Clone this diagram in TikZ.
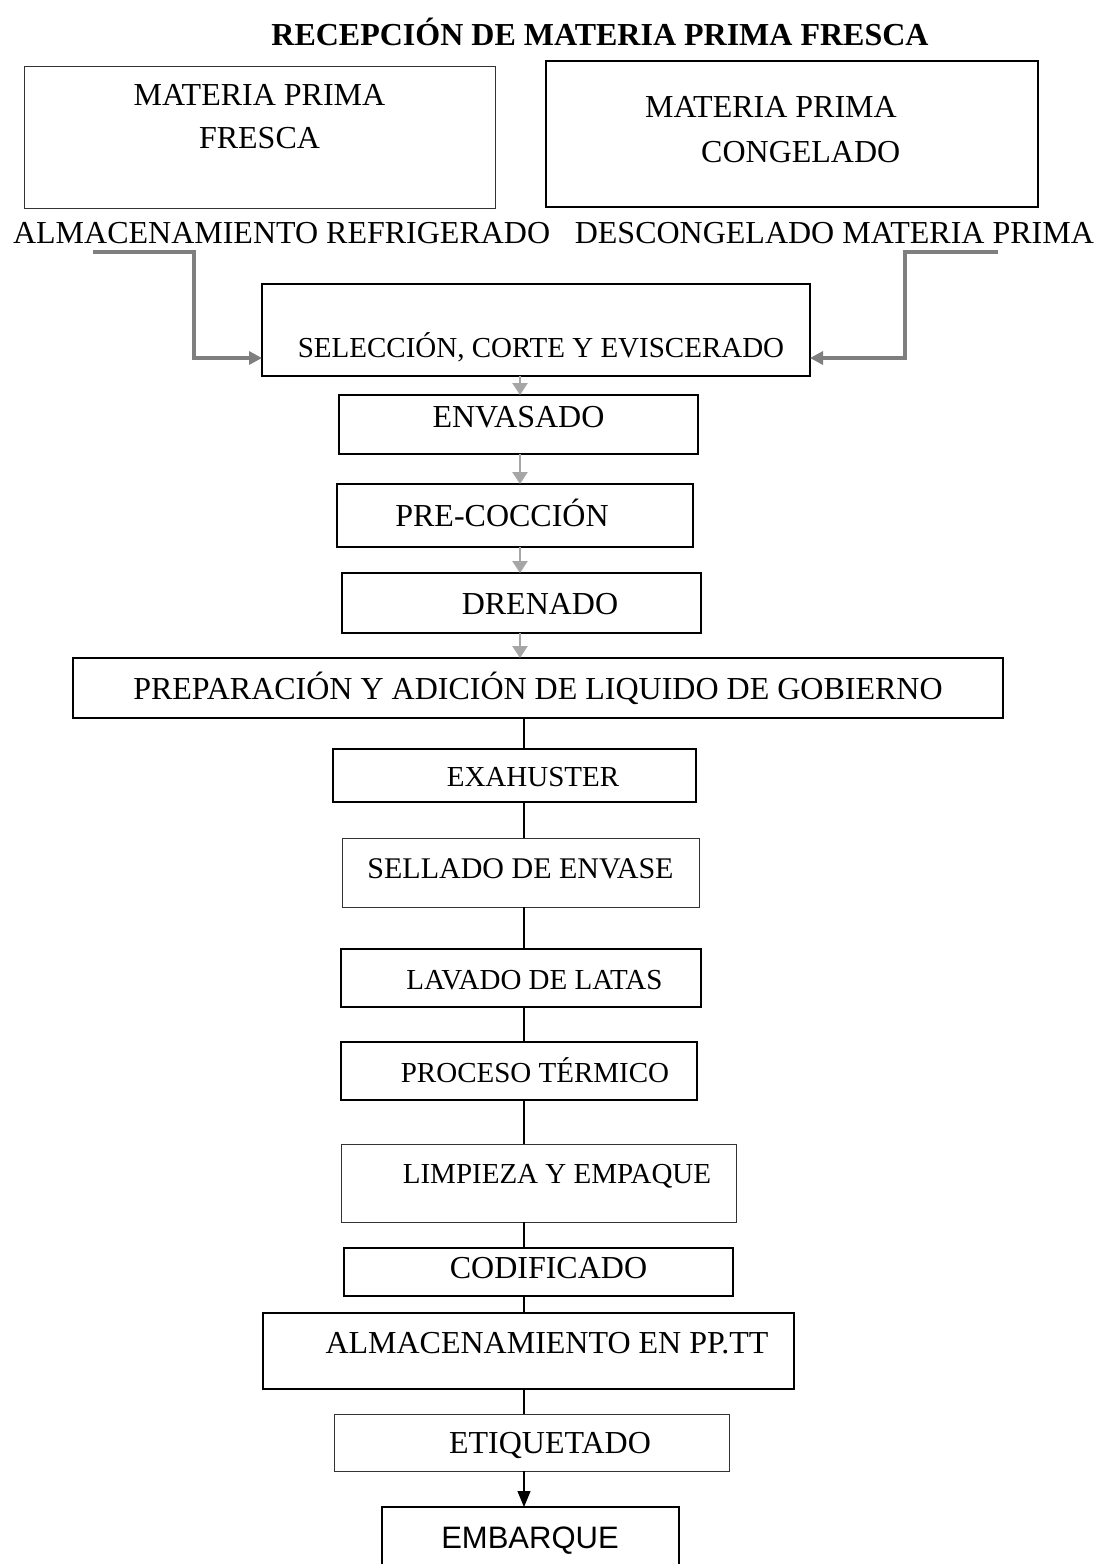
\documentclass[tikz,border=0pt]{standalone}
\usepackage{fontspec}
\setmainfont{Liberation Serif}
\setsansfont{Liberation Sans}
\usepackage{xcolor}
\definecolor{flujo}{HTML}{7F7F7F}
\definecolor{pasogris}{HTML}{A6A6A6}
\usetikzlibrary{arrows.meta, positioning}

\begin{document}
\begin{tikzpicture}[x=0.5pt, y=-0.5pt,
    marco/.style={draw, line width=1pt, outer sep=0pt, inner sep=2pt,
                  font=\fontsize{16}{23}\selectfont},
    caja/.style={marco, text height=11pt, text depth=0pt},
    cajafina/.style={caja, line width=0.5pt, draw=black!80},
    chica/.style={font=\fontsize{14.5}{17}\selectfont},
    etiqueta/.style={font=\fontsize{16}{19}\selectfont, anchor=base},
    entrada/.style={draw=flujo, line width=1.7pt,
                    -{Triangle[length=6.5pt, width=6.5pt]}},
    paso/.style={draw=pasogris, line width=1.3pt,
                 -{Triangle[length=6pt, width=7.5pt]}},
    linea/.style={draw, line width=1pt},
    flecha/.style={draw, line width=0.6pt,
                   -{Triangle[length=8pt, width=6.5pt]}}]

  \path[use as bounding box, clip] (0,0) rectangle (1105,1564);

  % titulo y materia prima
  \node[etiqueta, font=\fontsize{16}{19}\selectfont\bfseries] (titulo)
        at (600,45) {RECEPCIÓN DE MATERIA PRIMA FRESCA};

  \node[marco, line width=0.5pt, draw=black!80,
        font=\fontsize{16}{21.5}\selectfont,
        minimum width=235.5pt, minimum height=71pt,
        align=center, text depth=21pt] (fresca)
        at (259.5,137) {MATERIA PRIMA\\FRESCA};

  \node[marco, line width=1.2pt, font=\fontsize{16}{22.5}\selectfont,
        minimum width=246pt, minimum height=73pt,
        align=left, text depth=5pt,
        right=25.5pt of fresca, yshift=1.5pt] (congelado)
        {MATERIA PRIMA\rule{21pt}{0pt}\\\hspace*{28pt}CONGELADO};

  \node[etiqueta, anchor=base west] (almref) at (6,243)
        {ALMACENAMIENTO REFRIGERADO};
  \node[etiqueta, anchor=base east] (descong) at (1101,243)
        {DESCONGELADO MATERIA PRIMA};

  % proceso
  \node[caja, chica, minimum width=274pt, minimum height=46pt,
        text height=27pt] (selec)
        at (536,330) {\hspace*{5pt}SELECCIÓN, CORTE Y EVISCERADO};

  \node[caja, minimum width=179.5pt, minimum height=29.5pt, text depth=8.5pt,
        below=9.5pt of selec, xshift=-8.75pt] (envasado) {ENVASADO};

  \node[caja, minimum width=178pt, minimum height=31.5pt,
        below=15pt of envasado, xshift=-1.75pt] (precoc)
        {PRE-COCCIÓN\hspace*{13pt}};

  \node[caja, minimum width=179.5pt, minimum height=30pt,
        below=13pt of precoc, xshift=3.25pt] (drenado)
        {\hspace*{18.5pt}DRENADO};

  \node[caja, minimum width=465pt, minimum height=30pt,
        below=12.5pt of drenado, xshift=8.25pt] (prep)
        {PREPARACIÓN Y ADICIÓN DE LIQUIDO DE GOBIERNO};

  \node[caja, chica, minimum width=181.5pt, minimum height=26.5pt,
        below=15.5pt of prep, xshift=-11.75pt] (exa)
        {\hspace*{18.5pt}EXAHUSTER};

  \node[cajafina, font=\fontsize{15}{18}\selectfont,
        minimum width=178.5pt, minimum height=34.5pt, text depth=5.5pt,
        below=18pt of exa, xshift=3pt] (sellado) {SELLADO DE ENVASE};

  \node[caja, chica, minimum width=180pt, minimum height=29pt,
        below=21pt of sellado] (lavado) {\hspace*{14pt}LAVADO DE LATAS};

  \node[caja, chica, minimum width=178pt, minimum height=29pt,
        below=17.5pt of lavado, xshift=-1pt] (proceso)
        {\hspace*{16.5pt}PROCESO TÉRMICO};

  \node[cajafina, chica, minimum width=197.5pt, minimum height=39pt,
        text depth=11pt, below=22pt of proceso, xshift=10.25pt] (limpieza)
        {\hspace*{18pt}LIMPIEZA Y EMPAQUE};

  \node[caja, minimum width=194.5pt, minimum height=24pt, text depth=4.5pt,
        below=13pt of limpieza, xshift=-0.5pt] (codif)
        {\hspace*{10.5pt}CODIFICADO};

  \node[caja, minimum width=265.5pt, minimum height=38pt, text depth=9pt,
        below=8.5pt of codif, xshift=-5pt] (almac)
        {\hspace*{19pt}ALMACENAMIENTO EN PP.TT};

  \node[cajafina, minimum width=197.5pt, minimum height=28.5pt,
        below=12.5pt of almac, xshift=2pt] (etiq)
        {\hspace*{18pt}ETIQUETADO};

  \node[caja, font=\sffamily\fontsize{15.5}{18}\selectfont,
        minimum width=148.5pt, minimum height=35pt, text depth=5pt,
        below=18pt of etiq, xshift=-1pt] (embarque) {EMBARQUE};

  % entradas grises
  \coordinate (entradaizq) at (93,252);
  \coordinate (codoizq) at (194,358);
  \draw[entrada] (entradaizq) -| (codoizq) -- (codoizq -| selec.west);

  \coordinate (entradader) at (998,252);
  \coordinate (cododer) at (905,358);
  \draw[entrada] (entradader) -| (cododer) -- (cododer -| selec.east);

  % conectores
  \coordinate (ejegris) at (520,0);
  \coordinate (eje) at (524,0);
  \draw[paso] (selec.south -| ejegris) -- (envasado.north -| ejegris);
  \draw[paso] (envasado.south -| ejegris) -- (precoc.north -| ejegris);
  \draw[paso] (precoc.south -| ejegris) -- (drenado.north -| ejegris);
  \draw[paso] (drenado.south -| ejegris) -- (prep.north -| ejegris);

  \draw[linea] (prep.south -| eje) -- (exa.north -| eje);
  \draw[linea] (exa.south -| eje) -- (sellado.north -| eje);
  \draw[linea] (sellado.south -| eje) -- (lavado.north -| eje);
  \draw[linea] (lavado.south -| eje) -- (proceso.north -| eje);
  \draw[linea] (proceso.south -| eje) -- (limpieza.north -| eje);
  \draw[linea] (limpieza.south -| eje) -- (codif.north -| eje);
  \draw[linea] (codif.south -| eje) -- (almac.north -| eje);
  \draw[linea] (almac.south -| eje) -- (etiq.north -| eje);
  \draw[flecha] (etiq.south -| eje) -- (embarque.north -| eje);

\end{tikzpicture}
\end{document}
